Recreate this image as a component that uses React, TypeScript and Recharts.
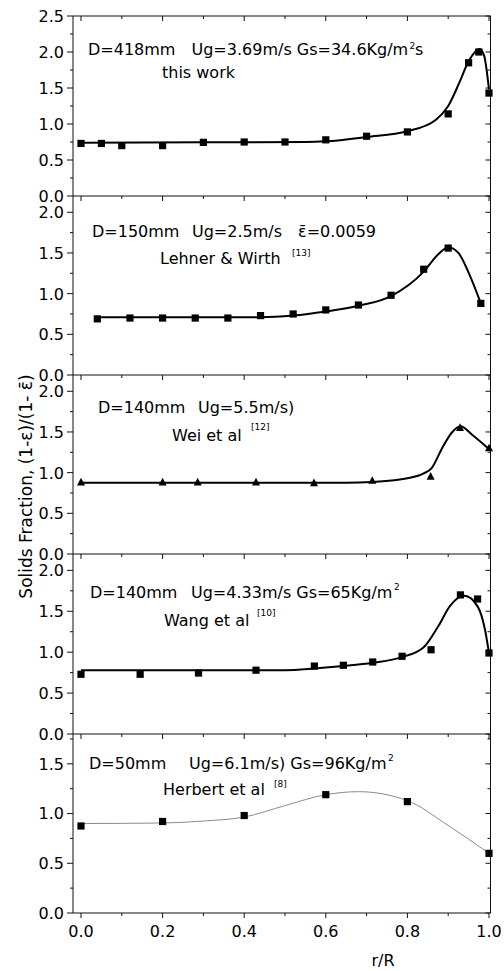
import React from "react";
import { ComposedChart, Line, XAxis, YAxis } from "recharts";

const FONT = '"DejaVu Sans", "Liberation Sans", Arial, sans-serif';
const INK = "#111";

// r/R ticks (major every 0.2, minor every 0.1)
const xTicks = [0, 0.1, 0.2, 0.3, 0.4, 0.5, 0.6, 0.7, 0.8, 0.9, 1.0];
const xMajor = [0, 0.2, 0.4, 0.6, 0.8, 1.0];

const yTicks25 = [0, 0.25, 0.5, 0.75, 1.0, 1.25, 1.5, 1.75, 2.0, 2.25, 2.5];
const yTicks20 = [0, 0.25, 0.5, 0.75, 1.0, 1.25, 1.5, 1.75, 2.0];
const yTicks15 = [0, 0.25, 0.5, 0.75, 1.0, 1.25, 1.5, 1.75];

// D=418mm, this work
const p1X = [0, 0.05, 0.1, 0.2, 0.3, 0.4, 0.5, 0.6, 0.7, 0.8, 0.9, 0.95, 0.975, 1.0];
const p1Y = [0.73, 0.73, 0.7, 0.7, 0.745, 0.75, 0.75, 0.78, 0.83, 0.89, 1.14, 1.85, 2.0, 1.43];
const p1FitX = [0, 0.3, 0.55, 0.6, 0.7, 0.8, 0.87, 0.9, 0.927, 0.95, 0.977, 0.988, 1.0];
const p1FitY = [0.74, 0.745, 0.75, 0.76, 0.82, 0.9, 1.06, 1.25, 1.57, 1.87, 2.04, 1.95, 1.48];

// D=150mm, Lehner & Wirth
const p2X = [0.04, 0.12, 0.2, 0.28, 0.36, 0.44, 0.52, 0.6, 0.68, 0.76, 0.84, 0.9, 0.98];
const p2Y = [0.69, 0.7, 0.7, 0.7, 0.7, 0.73, 0.75, 0.8, 0.86, 0.98, 1.3, 1.56, 0.88];
const p2FitX = [0.04, 0.44, 0.52, 0.6, 0.68, 0.76, 0.84, 0.875, 0.9, 0.925, 0.955, 0.98];
const p2FitY = [0.71, 0.71, 0.73, 0.78, 0.85, 0.97, 1.27, 1.48, 1.57, 1.5, 1.2, 0.88];

// D=140mm, Wei et al (triangles)
const p3X = [0, 0.2, 0.286, 0.429, 0.571, 0.714, 0.857, 0.929, 1.0];
const p3Y = [0.88, 0.88, 0.88, 0.88, 0.87, 0.9, 0.95, 1.55, 1.3];
const p3FitX = [0, 0.65, 0.714, 0.8, 0.84, 0.86, 0.885, 0.91, 0.93, 0.96, 1.0];
const p3FitY = [0.875, 0.875, 0.885, 0.93, 0.99, 1.06, 1.3, 1.5, 1.57, 1.46, 1.29];

// D=140mm, Wang et al
const p4X = [0, 0.145, 0.288, 0.429, 0.572, 0.643, 0.715, 0.787, 0.858, 0.93, 0.972, 1.0];
const p4Y = [0.73, 0.73, 0.745, 0.78, 0.83, 0.84, 0.88, 0.95, 1.03, 1.7, 1.65, 0.99];
const p4FitX = [0, 0.5, 0.572, 0.643, 0.715, 0.787, 0.84, 0.876, 0.905, 0.94, 0.972, 0.99, 1.0];
const p4FitY = [0.78, 0.78, 0.8, 0.83, 0.87, 0.94, 1.06, 1.32, 1.57, 1.69, 1.56, 1.28, 0.99];

// D=50mm, Herbert et al
const p5X = [0, 0.2, 0.4, 0.6, 0.8, 1.0];
const p5Y = [0.875, 0.92, 0.98, 1.19, 1.12, 0.6];
const p5FitX = [0, 0.2, 0.3, 0.4, 0.5, 0.6, 0.68, 0.8, 0.9, 1.0];
const p5FitY = [0.9, 0.905, 0.925, 0.965, 1.08, 1.19, 1.22, 1.13, 0.88, 0.6];

const zip = (xs: number[], ys: number[]) => xs.map((x, i) => ({ x, y: ys[i] }));

const W = 504;
const PLOT_LEFT = 73;
const PLOT_RIGHT = 490.5;
const PAD = 12;
const X_DOMAIN: [number, number] = [-0.0196, 1.0037];

const isMajorY = (v: number) => Math.abs(v * 2 - Math.round(v * 2)) < 1e-6;
const isMajorX = (v: number) => xMajor.some((m) => Math.abs(m - v) < 1e-6);

function LeftTick(p: any) {
  const v = p.payload.value;
  const major = isMajorY(v);
  return (
    <g>
      <line x1={p.x - (major ? 6 : 3)} x2={p.x} y1={p.y} y2={p.y} stroke={INK} />
      {major && (
        <text x={p.x - 9} y={p.y} textAnchor="end" dy="0.37em" fontSize={16} fontFamily={FONT} fill="#000">
          {v.toFixed(1)}
        </text>
      )}
    </g>
  );
}

function RightTick(p: any) {
  const major = isMajorY(p.payload.value);
  return <line x1={p.x - (major ? 5 : 3)} x2={p.x} y1={p.y} y2={p.y} stroke={INK} />;
}

function TopTick(p: any) {
  const major = isMajorX(p.payload.value);
  return <line x1={p.x} x2={p.x} y1={p.y} y2={p.y + (major ? 5 : 3)} stroke={INK} />;
}

function BottomTick(p: any) {
  const v = p.payload.value;
  const major = isMajorX(v);
  return (
    <g>
      <line x1={p.x} x2={p.x} y1={p.y} y2={p.y + (major ? 5 : 3)} stroke={INK} />
      {major && (
        <text x={p.x} y={p.y + 23.5} textAnchor="middle" fontSize={16} fontFamily={FONT} fill="#000">
          {v.toFixed(1)}
        </text>
      )}
    </g>
  );
}

const square = (p: any) => (
  <rect key={p.index} x={p.cx - 3.6} y={p.cy - 3.6} width={7.2} height={7.2} fill="#000" />
);
const triangle = (p: any) => (
  <polygon key={p.index} points={`${p.cx},${p.cy - 4.6} ${p.cx - 4},${p.cy + 3} ${p.cx + 4},${p.cy + 3}`} fill="#000" />
);

type PanelCfg = {
  top: number;
  height: number;
  yMax: number;
  yTicks: number[];
  pts: { x: number; y: number }[];
  fit: { x: number; y: number }[];
  marker: (p: any) => React.ReactElement;
  fitColor: string;
  fitWidth: number;
  bottomAxis?: boolean;
};

const panels: PanelCfg[] = [
  { top: 16, height: 180, yMax: 2.5, yTicks: yTicks25, pts: zip(p1X, p1Y), fit: zip(p1FitX, p1FitY), marker: square, fitColor: "#000", fitWidth: 2 },
  { top: 196, height: 179, yMax: 2.2, yTicks: yTicks20, pts: zip(p2X, p2Y), fit: zip(p2FitX, p2FitY), marker: square, fitColor: "#000", fitWidth: 2 },
  { top: 375, height: 179, yMax: 2.2, yTicks: yTicks20, pts: zip(p3X, p3Y), fit: zip(p3FitX, p3FitY), marker: triangle, fitColor: "#000", fitWidth: 2 },
  { top: 554, height: 180, yMax: 2.2, yTicks: yTicks20, pts: zip(p4X, p4Y), fit: zip(p4FitX, p4FitY), marker: square, fitColor: "#000", fitWidth: 2 },
  { top: 734, height: 179, yMax: 1.8, yTicks: yTicks15, pts: zip(p5X, p5Y), fit: zip(p5FitX, p5FitY), marker: square, fitColor: "#8a8a8a", fitWidth: 1, bottomAxis: true },
];

const axisCommon = {
  type: "number" as const,
  interval: 0 as const,
  tickSize: 0,
  tickMargin: 0,
  tickLine: false,
  axisLine: { stroke: INK },
};

function Panel({ cfg }: { cfg: PanelCfg }) {
  const bottomSpace = cfg.bottomAxis ? 40 : PAD;
  // in the bottom panel the markers are tied to the bottom axis so that it gets drawn too
  const markerAxis = cfg.bottomAxis ? "b" : "t";
  return (
    <div style={{ position: "absolute", left: 0, top: cfg.top - PAD }}>
      <ComposedChart
        width={W}
        height={cfg.height + PAD + bottomSpace}
        margin={{ top: PAD, right: W - PLOT_RIGHT, bottom: cfg.bottomAxis ? 0 : PAD, left: 0 }}
      >
        <XAxis xAxisId="t" orientation="top" mirror dataKey="x" domain={X_DOMAIN} ticks={xTicks} tick={TopTick} {...axisCommon} />
        {cfg.bottomAxis && (
          <XAxis xAxisId="b" orientation="bottom" height={40} dataKey="x" domain={X_DOMAIN} ticks={xTicks} tick={BottomTick} {...axisCommon} />
        )}
        <YAxis yAxisId="l" width={PLOT_LEFT} domain={[0, cfg.yMax]} ticks={cfg.yTicks} tick={LeftTick} {...axisCommon} />
        <YAxis yAxisId="r" orientation="right" mirror domain={[0, cfg.yMax]} ticks={cfg.yTicks} tick={RightTick} {...axisCommon} />
        <Line
          xAxisId="t"
          yAxisId="l"
          data={cfg.fit}
          dataKey="y"
          type="monotone"
          stroke={cfg.fitColor}
          strokeWidth={cfg.fitWidth}
          dot={false}
          isAnimationActive={false}
        />
        <Line
          xAxisId={markerAxis}
          yAxisId="r"
          data={cfg.pts}
          dataKey="y"
          stroke="none"
          dot={cfg.marker}
          isAnimationActive={false}
        />
      </ComposedChart>
    </div>
  );
}

function Txt({ x, y, size = 16, children }: { x: number; y: number; size?: number; children: React.ReactNode }) {
  return (
    <text x={x} y={y} fontSize={size} fontFamily={FONT} fill="#000">
      {children}
    </text>
  );
}

export default function App() {
  return (
    <div style={{ position: "relative", width: W, height: 971, background: "#fff", overflow: "hidden" }}>
      <style>{"body{margin:0;}"}</style>
      {panels.map((cfg, i) => (
        <Panel key={i} cfg={cfg} />
      ))}
      <svg width={W} height={971} style={{ position: "absolute", left: 0, top: 0, pointerEvents: "none" }}>
        <Txt x={88} y={55}>D=418mm</Txt>
        <Txt x={191.5} y={55}>Ug=3.69m/s Gs=34.6Kg/m</Txt>
        <Txt x={409.5} y={49} size={9}>2</Txt>
        <Txt x={415} y={55}>s</Txt>
        <Txt x={162} y={77.5}>this work</Txt>

        <Txt x={92} y={237}>D=150mm</Txt>
        <Txt x={192} y={237}>Ug=2.5m/s</Txt>
        <Txt x={298} y={237}>ε̄=0.0059</Txt>
        <Txt x={160} y={264}>Lehner &amp; Wirth</Txt>
        <Txt x={292} y={255.5} size={9}>[13]</Txt>

        <Txt x={98} y={413}>D=140mm</Txt>
        <Txt x={198} y={413}>Ug=5.5m/s)</Txt>
        <Txt x={172} y={440.5}>Wei et al</Txt>
        <Txt x={251} y={429.5} size={9}>[12]</Txt>

        <Txt x={90} y={598}>D=140mm</Txt>
        <Txt x={191} y={598}>Ug=4.33m/s Gs=65Kg/m</Txt>
        <Txt x={394} y={590} size={9}>2</Txt>
        <Txt x={164} y={625.5}>Wang et al</Txt>
        <Txt x={257} y={616} size={9}>[10]</Txt>

        <Txt x={89} y={769}>D=50mm</Txt>
        <Txt x={189} y={769}>Ug=6.1m/s) Gs=96Kg/m</Txt>
        <Txt x={388} y={761} size={9}>2</Txt>
        <Txt x={163} y={795}>Herbert et al</Txt>
        <Txt x={274} y={786.5} size={9}>[8]</Txt>

        <text transform="translate(32 486.5) rotate(-90)" textAnchor="middle" fontSize={17} fontFamily={FONT} fill="#000">
          Solids Fraction, (1-ε)/(1- ε̄)
        </text>
        <text x={383} y={966} textAnchor="middle" fontSize={16} fontFamily={FONT} fill="#000">
          r/R
        </text>
      </svg>
    </div>
  );
}
